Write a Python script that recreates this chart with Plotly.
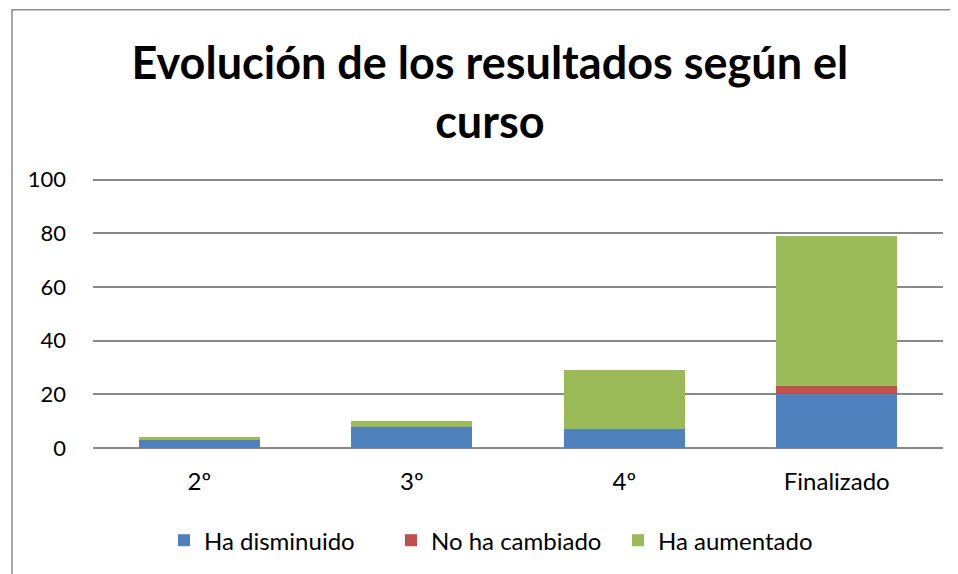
import plotly.graph_objects as go

categories = ["2º", "3º", "4º", "Finalizado"]
ha_disminuido = [3, 8, 7, 20]
no_ha_cambiado = [0, 0, 0, 3]
ha_aumentado = [1, 2, 22, 56]
y_ticks = [0, 20, 40, 60, 80, 100]

FONT = "Lato"
fig = go.Figure()
fig.add_bar(x=categories, y=ha_disminuido, name="Ha disminuido", marker_color="#4F81BD",
            marker_line_width=0)
fig.add_bar(x=categories, y=no_ha_cambiado, name="No ha cambiado", marker_color="#C0504D",
            marker_line_width=0)
fig.add_bar(x=categories, y=ha_aumentado, name="Ha aumentado", marker_color="#9BBB59",
            marker_line_width=0)

fig.update_layout(
    barmode="stack",
    bargap=0.43,
    width=958, height=574,
    paper_bgcolor="white", plot_bgcolor="white",
    margin=dict(l=85, r=23, t=170, b=134, autoexpand=False),
    font=dict(family=FONT, size=22, color="black"),
    title=dict(text="<b>Evolución de los resultados según el<br>curso</b>",
               x=0.503, xanchor="center", y=0.876, yanchor="top",
               font=dict(family=FONT, size=45, color="black")),
    legend=dict(orientation="h", x=0.0835, xanchor="left", y=-0.343, yanchor="middle",
                font=dict(family=FONT, size=24), itemwidth=30, traceorder="normal",
                entrywidth=182),
    showlegend=True,
)
fig.update_yaxes(range=[0, 100.6], tickvals=y_ticks, showgrid=True, gridcolor="#888888",
                 gridwidth=1.5, zeroline=True, zerolinecolor="#888888", zerolinewidth=1.5,
                 ticks="", ticklabelstandoff=26, tickfont=dict(size=22))
fig.update_xaxes(showline=False, ticks="", tickfont=dict(size=24), ticklabelstandoff=17)

fig.add_shape(type="rect", xref="paper", yref="paper", x0=-0.0953, x1=1.08, y0=-0.7, y1=1.623,
              line=dict(color="#8c8c8c", width=1.5), fillcolor="rgba(0,0,0,0)", layer="below")

fig.write_html("out.html")
